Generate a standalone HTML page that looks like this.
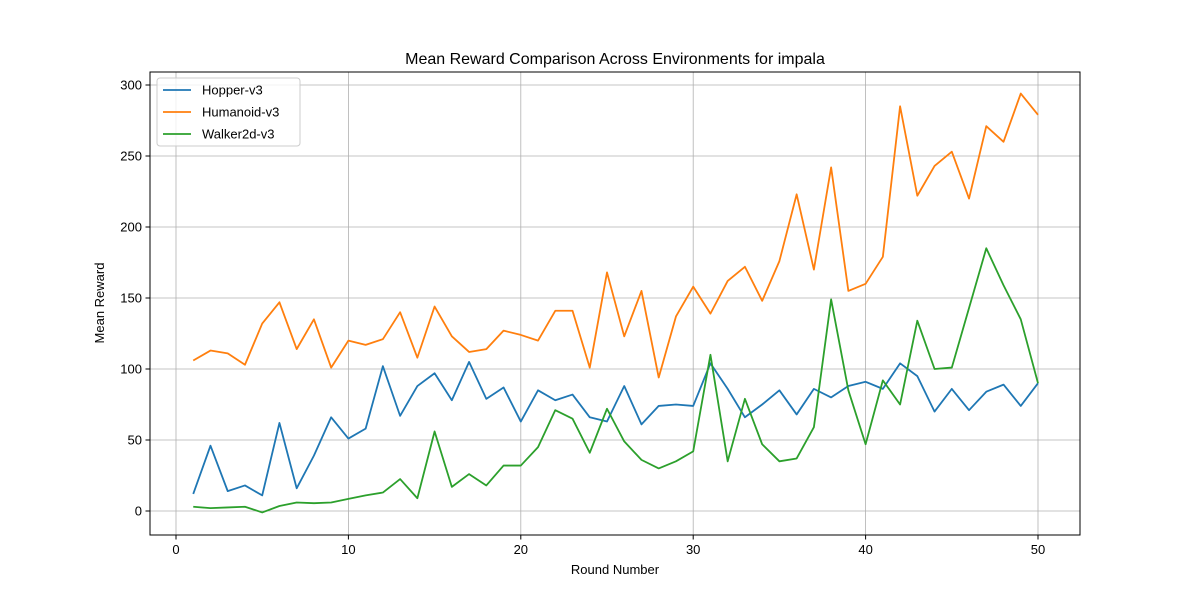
<!DOCTYPE html>
<html><head><meta charset="utf-8"><style>
body{margin:0;background:#fff;}
svg text{font-family:"Liberation Sans","DejaVu Sans",sans-serif;fill:#000;}
</style></head><body>
<svg id="chart" width="1200" height="600" xmlns="http://www.w3.org/2000/svg">
<rect x="0" y="0" width="1200" height="600" fill="#fff"/>
<g id="grid"></g>
<g id="lines"></g>
<rect x="150" y="72" width="930" height="463" fill="none" stroke="#000" stroke-width="1"/>
<g id="ticks"></g>
<text x="615" y="64" font-size="16" text-anchor="middle">Mean Reward Comparison Across Environments for impala</text>
<text x="615" y="574" font-size="13" text-anchor="middle">Round Number</text>
<text x="104" y="303" font-size="13" text-anchor="middle" transform="rotate(-90 104 303)">Mean Reward</text>
<g id="legend">
<rect x="157" y="78" width="143" height="68" rx="3" fill="#fff" fill-opacity="0.8" stroke="#ccc"/>
</g>
</svg>
<script>
const rounds = Array.from({length:50},(_,i)=>i+1);
const hopper = [12,46,14,18,11,62,16,39,66,51,58,102,67,88,97,78,105,79,87,63,85,78,82,66,63,88,61,74,75,74,104,86,66,75,85,68,86,80,88,91,86,104,95,70,86,71,84,89,74,90];
const humanoid = [106,113,111,103,132,147,114,135,101,120,117,121,140,108,144,123,112,114,127,124,120,141,141,101,168,123,155,94,137,158,139,162,172,148,176,223,170,242,155,160,179,285,222,243,253,220,271,260,294,279];
const walker = [3,2,2.5,3,-1,3.5,6,5.5,6,8.5,11,13,22.5,9,56,17,26,18,32,32,45,71,65,41,72,49,36,30,35,42,110,35,79,47,35,37,59,149,85,47,92,75,134,100,101,143,185,159,135,90];
const seriesNames = ["Hopper-v3","Humanoid-v3","Walker2d-v3"];
const seriesColors = ["#1f77b4","#ff7f0e","#2ca02c"];
const xTicks = [0,10,20,30,40,50];
const yTicks = [0,50,100,150,200,250,300];
const NS="http://www.w3.org/2000/svg";
const X = v => 176 + v*(1038-176)/50;
const Y = v => 511 - v*(511-85)/300;
function mk(tag, attrs, parent){const e=document.createElementNS(NS,tag);for(const k in attrs)e.setAttribute(k,attrs[k]);parent.appendChild(e);return e;}
const grid=document.getElementById('grid'), ticks=document.getElementById('ticks'), lines=document.getElementById('lines'), legend=document.getElementById('legend');
xTicks.forEach(t=>{
  const g=mk('line',{x1:X(t),x2:X(t),y1:72,y2:535,stroke:'#b0b0b0','stroke-width':0.8},grid);
  
  
  const tk=mk('line',{x1:X(t),x2:X(t),y1:535,y2:539.5,stroke:'#000'},ticks);
  
  
  const lb=mk('text',{x:X(t),y:554,'font-size':13,'text-anchor':'middle'},ticks);
  lb.textContent=t;
  
  
});
yTicks.forEach(t=>{
  const g=mk('line',{x1:150,x2:1080,y1:Y(t),y2:Y(t),stroke:'#b0b0b0','stroke-width':0.8},grid);
  
  
  const tk=mk('line',{x1:145.5,x2:150,y1:Y(t),y2:Y(t),stroke:'#000'},ticks);
  
  
  const lb=mk('text',{x:142,y:Y(t)+4.5,'font-size':13,'text-anchor':'end'},ticks);
  lb.textContent=t;
  
  
});
[hopper,humanoid,walker].forEach((s,i)=>{
  const p=mk('polyline',{points:s.map((v,j)=>X(rounds[j])+','+Y(v)).join(' '),fill:'none',stroke:seriesColors[i],'stroke-width':1.8,'stroke-linejoin':'round'},lines);
  
  
  const y=90+i*22;
  const l=mk('line',{x1:163,x2:191,y1:y,y2:y,stroke:seriesColors[i],'stroke-width':1.8},legend);
  
  
  const t=mk('text',{x:202,y:y+4.5,'font-size':13},legend);
  t.textContent=seriesNames[i];
  
  
});
</script>
</body></html>
